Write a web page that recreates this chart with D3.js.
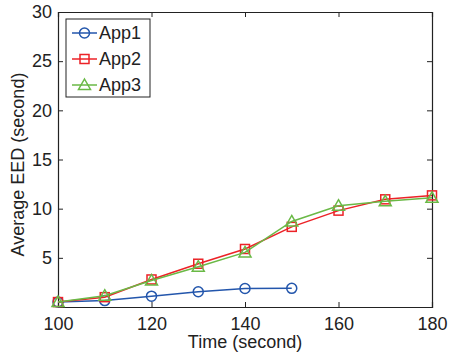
<!DOCTYPE html>
<html>
<head>
<meta charset="utf-8">
<script src="https://cdn.jsdelivr.net/npm/d3@7"></script>
<style>
  body { margin: 0; background: #fff; }
  svg { display: block; font-family: "Liberation Sans", Arial, sans-serif; }
</style>
</head>
<body>
<div id="chart"></div>
<script>
// data
const times = [100, 110, 120, 130, 140, 150, 160, 170, 180];
const app1 = [0.5, 0.65, 1.1, 1.55, 1.88, 1.9];
const app2 = [0.5, 1.0, 2.8, 4.4, 5.9, 8.15, 9.8, 10.95, 11.35];
const app3 = [0.5, 1.15, 2.7, 4.1, 5.55, 8.7, 10.3, 10.75, 11.1];
const xTicks = [100, 120, 140, 160, 180];
const yTicks = [5, 10, 15, 20, 25, 30];

const series = [
    { name: 'App1', values: app1, color: '#2356ac', marker: 'circle' },
    { name: 'App2', values: app2, color: '#ec2227', marker: 'square' },
    { name: 'App3', values: app3, color: '#6ab946', marker: 'triangle' }
];

const W = 449, H = 355;
const margin = { top: 12, right: 17, bottom: 48, left: 58 };
const width = W - margin.left - margin.right;
const height = H - margin.top - margin.bottom;

const svg = d3.select('#chart').append('svg')
    .attr('width', W)
    .attr('height', H);

const g = svg.append('g')
    .attr('transform', `translate(${margin.left},${margin.top})`);

const x = d3.scaleLinear().domain([100, 180]).range([0, width]);
const y = d3.scaleLinear().domain([0, 30]).range([height, 0]);

// frame + inward ticks (matlab style)
g.append('g')
    .attr('transform', `translate(0,${height})`)
    .call(d3.axisBottom(x).tickValues(xTicks).tickSize(-5).tickPadding(10))
    .call(a => a.selectAll('text').style('font-size', '18px').attr('fill', '#222'));
g.append('g')
    .call(d3.axisTop(x).tickValues(xTicks).tickSize(-5).tickFormat(''));
g.append('g')
    .call(d3.axisLeft(y).tickValues(yTicks).tickSize(-5).tickPadding(6))
    .call(a => a.selectAll('text').style('font-size', '18px').attr('fill', '#222'));
g.append('g')
    .attr('transform', `translate(${width},0)`)
    .call(d3.axisRight(y).tickValues(yTicks).tickSize(-5).tickFormat(''));
g.selectAll('.domain').attr('stroke', '#222').attr('stroke-width', 1.2);
g.selectAll('.tick line').attr('stroke', '#222');

const line = d3.line()
    .x((d, i) => x(times[i]))
    .y(d => y(d));

function drawMarker(sel, type, color) {
    if (type === 'circle') {
        sel.append('circle').attr('r', 5);
    } else if (type === 'square') {
        sel.append('rect').attr('x', -4.5).attr('y', -4.5).attr('width', 9).attr('height', 9);
    } else {
        sel.append('path').attr('d', 'M0,-6L6,4.5L-6,4.5Z');
    }
    sel.selectAll('*').attr('fill', 'none').attr('stroke', color).attr('stroke-width', 1.5);
}

series.forEach(s => {
    g.append('path')
        .datum(s.values)
        .attr('fill', 'none')
        .attr('stroke', s.color)
        .attr('stroke-width', 1.5)
        .attr('d', line);
    g.selectAll(null)
        .data(s.values)
        .enter()
        .append('g')
        .attr('transform', (d, i) => `translate(${x(times[i])},${y(d)})`)
        .each(function () { drawMarker(d3.select(this), s.marker, s.color); });
});

// legend
const legend = g.append('g').attr('transform', 'translate(8,7)');
legend.append('rect')
    .attr('width', 84).attr('height', 78)
    .attr('fill', '#fff').attr('stroke', '#222').attr('stroke-width', 1);
series.forEach((s, i) => {
    const row = legend.append('g').attr('transform', `translate(0,${14 + i * 26})`);
    row.append('line')
        .attr('x1', 6).attr('x2', 31)
        .attr('stroke', s.color).attr('stroke-width', 1.5);
    const m = row.append('g').attr('transform', 'translate(18.5,0)');
    drawMarker(m, s.marker, s.color);
    row.append('text')
        .attr('x', 33).attr('dy', '0.35em')
        .style('font-size', '18px').attr('fill', '#222')
        .text(s.name);
});

// axis titles
svg.append('text')
    .attr('x', margin.left + width / 2).attr('y', 348)
    .attr('text-anchor', 'middle')
    .style('font-size', '18px').attr('fill', '#222')
    .text('Time (second)');
svg.append('text')
    .attr('transform', `translate(24,${margin.top + height / 2 + 5}) rotate(-90)`)
    .attr('text-anchor', 'middle')
    .style('font-size', '18px').attr('fill', '#222')
    .text('Average EED (second)');
</script>
</body>
</html>
